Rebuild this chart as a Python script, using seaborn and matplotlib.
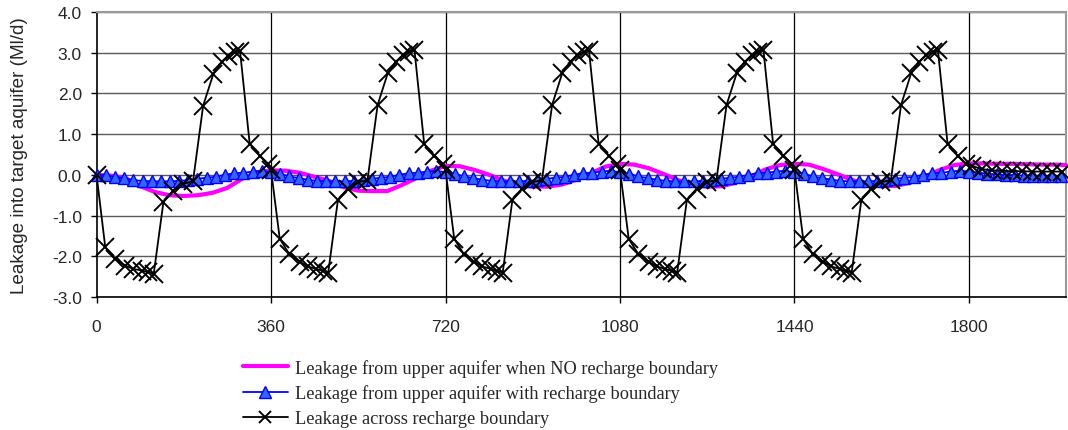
import numpy as np
import pandas as pd
import seaborn as sns
import matplotlib
matplotlib.use("Agg")
import matplotlib.pyplot as plt

# ---------------- data ----------------
# Leakage from upper aquifer when NO recharge boundary (magenta, no markers)
magenta_x = [0, 30, 60, 90, 120, 150, 180, 210, 240, 270, 300, 330,
             360, 390, 420, 450, 480, 510, 540, 570, 600, 630, 660, 690,
             720, 750, 780, 810, 840, 870, 900, 930, 960, 990, 1020, 1050,
             1080, 1110, 1140, 1170, 1200, 1230, 1260, 1290, 1320, 1350, 1380, 1410,
             1440, 1470, 1500, 1530, 1560, 1590, 1620, 1650, 1680, 1710, 1740, 1770,
             1800, 1830, 1860, 1890, 1920, 1950, 1980, 2000]
magenta_y = [0.00, -0.02, -0.08, -0.28, -0.42, -0.50, -0.52, -0.50, -0.44, -0.32, -0.10, 0.06,
             0.11, 0.10, 0.05, -0.05, -0.15, -0.30, -0.39, -0.40, -0.40, -0.25, -0.08, 0.10,
             0.22, 0.21, 0.12, 0.00, -0.14, -0.25, -0.29, -0.29, -0.24, -0.12, 0.04, 0.20,
             0.27, 0.25, 0.16, 0.02, -0.13, -0.24, -0.29, -0.28, -0.19, -0.04, 0.13, 0.24,
             0.27, 0.25, 0.14, 0.01, -0.13, -0.24, -0.28, -0.27, -0.19, -0.04, 0.12, 0.24,
             0.28, 0.28, 0.27, 0.27, 0.26, 0.25, 0.25, 0.24]

# Leakage from upper aquifer with recharge boundary (blue, triangles)
blue_x = [0, 19, 38, 57, 76, 95, 114, 133, 152, 171, 189, 208, 227, 246, 265, 284, 303, 322, 341,
          360, 379, 398, 417, 436, 455, 474, 493, 512, 531, 549, 568, 587, 606, 625, 644, 663, 682, 701,
          720, 739, 758, 777, 796, 815, 834, 853, 872, 891, 909, 928, 947, 966, 985, 1004, 1023, 1042, 1061,
          1080, 1099, 1118, 1137, 1156, 1175, 1194, 1213, 1232, 1251, 1269, 1288, 1307, 1326, 1345, 1364, 1383, 1402, 1421,
          1440, 1459, 1478, 1497, 1516, 1535, 1554, 1573, 1592, 1611, 1629, 1648, 1667, 1686, 1705, 1724, 1743, 1762, 1781,
          1800, 1819, 1838, 1857, 1876, 1895, 1914, 1933, 1952, 1971, 1990]
blue_y = [0.00, -0.01, -0.05, -0.08, -0.13, -0.15, -0.16, -0.16, -0.16, -0.15, -0.13, -0.10, -0.07, -0.05, 0.00, 0.04, 0.05, 0.08, 0.10,
          0.06, 0.03, -0.04, -0.08, -0.12, -0.15, -0.16, -0.16, -0.16, -0.15, -0.13, -0.10, -0.07, -0.05, 0.00, 0.04, 0.05, 0.08, 0.10,
          0.06, 0.03, -0.04, -0.08, -0.12, -0.15, -0.16, -0.16, -0.16, -0.15, -0.13, -0.10, -0.07, -0.05, 0.00, 0.04, 0.05, 0.08, 0.10,
          0.06, 0.03, -0.04, -0.08, -0.12, -0.15, -0.16, -0.16, -0.16, -0.15, -0.13, -0.10, -0.07, -0.05, 0.00, 0.04, 0.05, 0.08, 0.10,
          0.06, 0.03, -0.04, -0.08, -0.12, -0.15, -0.16, -0.16, -0.16, -0.15, -0.13, -0.10, -0.07, -0.05, 0.00, 0.04, 0.05, 0.08, 0.10,
          0.08, 0.05, 0.03, 0.01, 0.00, -0.01, -0.02, -0.02, -0.03, -0.03, -0.03]

# Leakage across recharge boundary (black, crosses)
black_x = [0, 18, 38, 59, 76, 93, 107, 118, 138, 158, 179, 199, 220, 241, 258, 272, 285, 296, 316, 337, 354,
           360, 378, 398, 419, 436, 453, 467, 478, 498, 518, 539, 559, 580, 601, 618, 632, 645, 656, 676, 697, 714,
           720, 738, 758, 779, 796, 813, 827, 838, 858, 878, 899, 919, 940, 961, 978, 992, 1005, 1016, 1036, 1057, 1074,
           1080, 1098, 1118, 1139, 1156, 1173, 1187, 1198, 1218, 1238, 1259, 1279, 1300, 1321, 1338, 1352, 1365, 1376, 1396, 1417, 1434,
           1440, 1458, 1478, 1499, 1516, 1533, 1547, 1558, 1578, 1598, 1619, 1639, 1660, 1681, 1698, 1712, 1725, 1736, 1756, 1777, 1794,
           1806, 1827, 1847, 1868, 1888, 1909, 1930, 1950, 1971, 1992]
black_y = [0.00, -1.78, -2.06, -2.23, -2.31, -2.35, -2.39, -2.43, -0.67, -0.39, -0.22, -0.16, 1.70, 2.48, 2.77, 2.93, 3.01, 3.05, 0.76, 0.47, 0.27,
           0.12, -1.57, -1.95, -2.13, -2.25, -2.31, -2.36, -2.40, -0.62, -0.34, -0.18, -0.13, 1.72, 2.50, 2.78, 2.94, 3.02, 3.06, 0.76, 0.47, 0.27,
           0.12, -1.57, -1.95, -2.13, -2.25, -2.31, -2.36, -2.40, -0.62, -0.34, -0.18, -0.13, 1.72, 2.50, 2.78, 2.94, 3.02, 3.06, 0.76, 0.47, 0.27,
           0.12, -1.57, -1.95, -2.13, -2.25, -2.31, -2.36, -2.40, -0.62, -0.34, -0.18, -0.13, 1.72, 2.50, 2.78, 2.94, 3.02, 3.06, 0.76, 0.47, 0.27,
           0.12, -1.57, -1.95, -2.13, -2.25, -2.31, -2.36, -2.40, -0.62, -0.34, -0.18, -0.13, 1.72, 2.50, 2.78, 2.94, 3.02, 3.06, 0.76, 0.47, 0.27,
           0.22, 0.14, 0.11, 0.10, 0.09, 0.09, 0.08, 0.08, 0.08, 0.08]

x_ticks = [0, 360, 720, 1080, 1440, 1800]
y_ticks = [-3.0, -2.0, -1.0, 0.0, 1.0, 2.0, 3.0, 4.0]
y_label = "Leakage into target aquifer (Ml/d)"
labels = ["Leakage from upper aquifer when NO recharge boundary",
          "Leakage from upper aquifer with recharge boundary",
          "Leakage across recharge boundary"]

# ---------------- plot ----------------
sns.set_style("white")
plt.rcParams["font.family"] = ["Liberation Sans", "DejaVu Sans"]

fig = plt.figure(figsize=(10.68, 4.31), dpi=100)
ax = fig.add_axes([0.0904, 0.3086, 0.9076, 0.6614])

df_m = pd.DataFrame({"x": magenta_x, "y": magenta_y})
df_b = pd.DataFrame({"x": blue_x, "y": blue_y})
df_k = pd.DataFrame({"x": black_x, "y": black_y})

sns.lineplot(data=df_m, x="x", y="y", ax=ax, color="#FF00FF", linewidth=3.0,
             estimator=None, sort=False, label=labels[0], zorder=3)
sns.lineplot(data=df_b, x="x", y="y", ax=ax, color="#0000FF", linewidth=1.3,
             marker="^", markersize=8, markerfacecolor="#3366FF", markeredgecolor="#0000FF",
             markeredgewidth=1.0, estimator=None, sort=False, label=labels[1], zorder=4)
sns.lineplot(data=df_k, x="x", y="y", ax=ax, color="black", linewidth=1.3,
             marker="x", markersize=13, markeredgewidth=1.4, markeredgecolor="black",
             estimator=None, sort=False, label=labels[2], zorder=5)

for ln in ax.get_lines():
    ln.set_clip_on(False)

ax.set_xlim(0, 2000)
ax.set_ylim(-3, 4)
ax.set_xticks(x_ticks)
ax.set_xticklabels([str(t) for t in x_ticks])
ax.set_yticks(y_ticks)
ax.set_yticklabels([f"{t:.1f}" for t in y_ticks])
ax.set_xlabel("")
ax.set_ylabel(y_label, fontsize=13.6)
ax.yaxis.set_label_coords(-0.0707, 0.5)

ax.tick_params(axis="both", labelsize=12.5, direction="out", length=4.5, width=1,
               color="black", left=True, bottom=True)
ax.tick_params(axis="x", pad=11)
ax.tick_params(axis="y", pad=6)

for yv in y_ticks:
    ax.axhline(yv, color="#5a5a5a", linewidth=1.0, zorder=1)
for xv in x_ticks[1:]:
    ax.axvline(xv, color="black", linewidth=0.9, zorder=1)

for side in ["left", "bottom"]:
    ax.spines[side].set_color("black")
    ax.spines[side].set_linewidth(1.2)
for side in ["top", "right"]:
    ax.spines[side].set_color("#9a9a9a")
    ax.spines[side].set_linewidth(1.5)

ax.get_legend().remove()
handles, labs = ax.get_legend_handles_labels()
leg = fig.legend(handles, labs, loc="upper left", bbox_to_anchor=(0.2275, 0.165),
                 frameon=False, borderpad=0, borderaxespad=0, handlelength=2.45,
                 handletextpad=0.38, labelspacing=0.42,
                 prop={"family": "Liberation Serif", "size": 13.2})
for h in leg.legend_handles:
    h.set_clip_on(True)
    if h.get_marker() in ("x", "^"):
        h.set_markersize(9)

fig.savefig("out.png", dpi=100)
